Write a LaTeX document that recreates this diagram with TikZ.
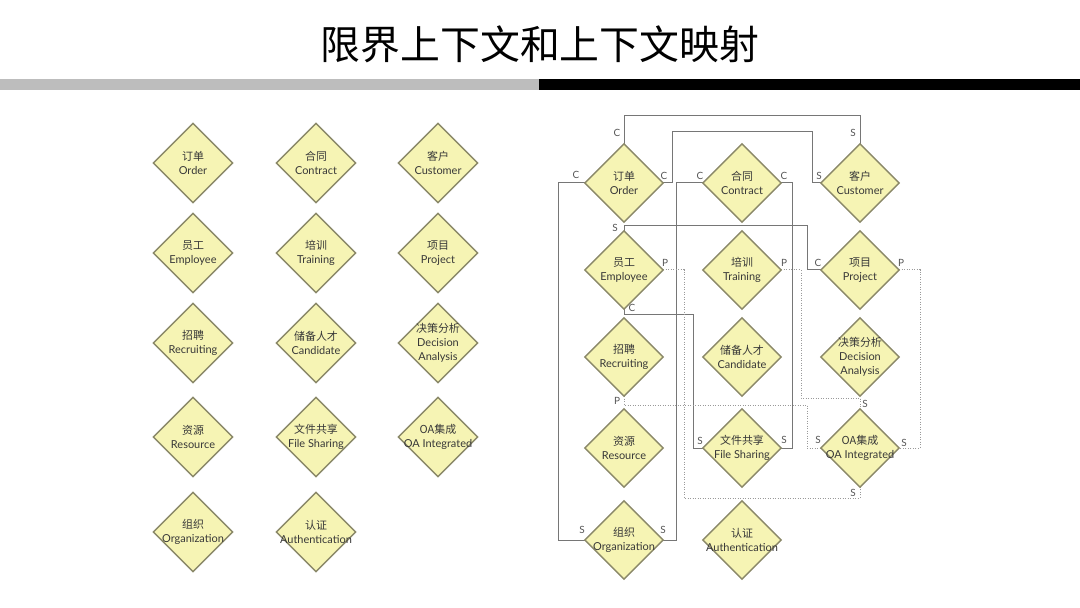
\documentclass[tikz,border=0pt]{standalone}
\usepackage{fontspec}
\setmainfont{Lato}
\newfontfamily\cjk{Noto Sans CJK SC}
\usetikzlibrary{shapes.geometric,calc}
\definecolor{diafill}{HTML}{F6F4B4}
\definecolor{diadraw}{HTML}{8A8868}
\definecolor{connc}{HTML}{767676}
\definecolor{dotc}{HTML}{9A9A9A}
\definecolor{lblc}{HTML}{555555}
\definecolor{barg}{HTML}{BDBDBD}
\tikzset{
  dia/.style={diamond,aspect=1,fill=diafill,draw=diadraw,line width=1.4bp,inner sep=0pt,minimum width=#1,minimum height=#1},
  txt/.style={align=center,font=\fontsize{11}{14}\selectfont,inner sep=0pt,text=black!78},
  lbl/.style={font=\fontsize{10}{10}\selectfont,text=lblc,inner sep=0pt},
  conn/.style={draw=connc,line width=1bp},
  dconn/.style={draw=dotc,line width=1bp,dash pattern=on 1bp off 1.5bp},
}
\begin{document}
\begin{tikzpicture}[x=1bp,y=-1bp]
\useasboundingbox (0,0) rectangle (1080,608);
\fill[white] (0,0) rectangle (1080,608);
% title and bar
\node[font=\cjk\fontsize{40}{44}\selectfont] (title) at (540,44) {限界上下文和上下文映射};
\fill[barg] (0,79) rectangle (539,90);
\fill[black] (539,79) rectangle (1080,90);

% ---------- left grid ----------
\node[dia=80bp] (lo) at (193,163) {};
\node[txt] (lo-t) at (lo) {{\cjk 订单}\\Order};
\node[dia=80bp] (lc) at (316,163) {};
\node[txt] (lc-t) at (lc) {{\cjk 合同}\\Contract};
\node[dia=80bp] (lcu) at (438,163) {};
\node[txt] (lcu-t) at (lcu) {{\cjk 客户}\\Customer};
\node[dia=80bp] (le) at (193,253) {};
\node[txt] (le-t) at (le) {{\cjk 员工}\\Employee};
\node[dia=80bp] (lt) at (316,253) {};
\node[txt] (lt-t) at (lt) {{\cjk 培训}\\Training};
\node[dia=80bp] (lp) at (438,253) {};
\node[txt] (lp-t) at (lp) {{\cjk 项目}\\Project};
\node[dia=80bp] (lr) at (193,343) {};
\node[txt] (lr-t) at (lr) {{\cjk 招聘}\\Recruiting};
\node[dia=80bp] (lca) at (316,343) {};
\node[txt] (lca-t) at (lca) {{\cjk 储备人才}\\Candidate};
\node[dia=80bp] (ld) at (438,343) {};
\node[txt] (ld-t) at (ld) {{\cjk 决策分析}\\Decision\\Analysis};
\node[dia=80bp] (lres) at (193,437) {};
\node[txt] (lres-t) at (lres) {{\cjk 资源}\\Resource};
\node[dia=80bp] (lf) at (316,437) {};
\node[txt] (lf-t) at (lf) {{\cjk 文件共享}\\File Sharing};
\node[dia=80bp] (loa) at (438,437) {};
\node[txt] (loa-t) at (loa) {{\cjk OA集成}\\OA Integrated};
\node[dia=80bp] (lorg) at (193,532) {};
\node[txt] (lorg-t) at (lorg) {{\cjk 组织}\\Organization};
\node[dia=80bp] (la) at (316,532) {};
\node[txt] (la-t) at (la) {{\cjk 认证}\\Authentication};

% ---------- right grid ----------
\node[dia=77bp] (ro) at (624,183) {};
\node[dia=77bp] (rc) at (742,183) {};
\node[dia=77bp] (rcu) at (860,183) {};
\node[dia=77bp] (re) at (624,270) {};
\node[dia=77bp] (rt) at (742,270) {};
\node[dia=77bp] (rp) at (860,270) {};
\node[dia=77bp] (rr) at (624,357) {};
\node[dia=77bp] (rca) at (742,357) {};
\node[dia=77bp] (rd) at (860,357) {};
\node[dia=77bp] (rres) at (624,448) {};
\node[dia=77bp] (rf) at (742,448) {};
\node[dia=77bp] (roa) at (860,448) {};
\node[dia=77bp] (rorg) at (624,540) {};
\node[dia=77bp] (ra) at (742,540) {};

% solid connectors
\draw[conn] (ro.north) -- (ro.north |- 0,116) -| (rcu.north);
\draw[conn] (ro.east) -| (672,132) -| (812,183) -- (rcu.west);
\draw[conn] (ro.west) -| (558,540) -- (rorg.west);
\draw[conn] (rorg.east) -| (676,183) -- (rc.west);
\draw[conn] (re.north) -- (re.north |- 0,226) -| (807,270) -- (rp.west);
\draw[conn] (rc.east) -| (792,448) -- (rf.east);
\draw[conn] (re.south) -- (re.south |- 0,314) -| (693,448) -- (rf.west);
% dotted connectors
\draw[dconn] (re.east) -| (684,498) -| (roa.south);
\draw[dconn] (rr.south) -- (rr.south |- 0,405) -| (807,448) -- (roa.west);
\draw[dconn] (rt.east) -| (801,398) -| (roa.north);
\draw[dconn] (rp.east) -| (920,448) -- (roa.east);

% redraw diamonds over connectors
\foreach \n in {ro,rc,rcu,re,rt,rp,rr,rca,rd,rres,rf,roa,rorg,ra}{
  \path[fill=diafill,draw=diadraw,line width=1.4bp] (\n.north) -- (\n.east) -- (\n.south) -- (\n.west) -- cycle;
}
\node[txt] (ro-t) at (ro) {{\cjk 订单}\\Order};
\node[txt] (rc-t) at (rc) {{\cjk 合同}\\Contract};
\node[txt] (rcu-t) at (rcu) {{\cjk 客户}\\Customer};
\node[txt] (re-t) at (re) {{\cjk 员工}\\Employee};
\node[txt] (rt-t) at (rt) {{\cjk 培训}\\Training};
\node[txt] (rp-t) at (rp) {{\cjk 项目}\\Project};
\node[txt] (rr-t) at (rr) {{\cjk 招聘}\\Recruiting};
\node[txt] (rca-t) at (rca) {{\cjk 储备人才}\\Candidate};
\node[txt] (rd-t) at (rd) {{\cjk 决策分析}\\Decision\\Analysis};
\node[txt] (rres-t) at (rres) {{\cjk 资源}\\Resource};
\node[txt] (rf-t) at (rf) {{\cjk 文件共享}\\File Sharing};
\node[txt] (roa-t) at (roa) {{\cjk OA集成}\\OA Integrated};
\node[txt] (rorg-t) at (rorg) {{\cjk 组织}\\Organization};
\node[txt] (ra-t) at (ra) {{\cjk 认证}\\Authentication};

% end labels
\node[lbl] (k1) at (617,133) {C};
\node[lbl] (k2) at (853,133) {S};
\node[lbl] (k3) at (576,175) {C};
\node[lbl] (k4) at (664,176) {C};
\node[lbl] (k5) at (819,176) {S};
\node[lbl] (k6) at (700,176) {C};
\node[lbl] (k7) at (784,176) {C};
\node[lbl] (k8) at (615,228) {S};
\node[lbl] (k9) at (665,263) {P};
\node[lbl] (k10) at (632,308) {C};
\node[lbl] (k11) at (818,263) {C};
\node[lbl] (k12) at (784,263) {P};
\node[lbl] (k13) at (901,263) {P};
\node[lbl] (k14) at (617,401) {P};
\node[lbl] (k15) at (700,441) {S};
\node[lbl] (k16) at (784,440) {S};
\node[lbl] (k17) at (865,404) {S};
\node[lbl] (k18) at (818,440) {S};
\node[lbl] (k19) at (904,443) {S};
\node[lbl] (k20) at (853,493) {S};
\node[lbl] (k21) at (582,530) {S};
\node[lbl] (k22) at (663,530) {S};
\end{tikzpicture}
\end{document}
